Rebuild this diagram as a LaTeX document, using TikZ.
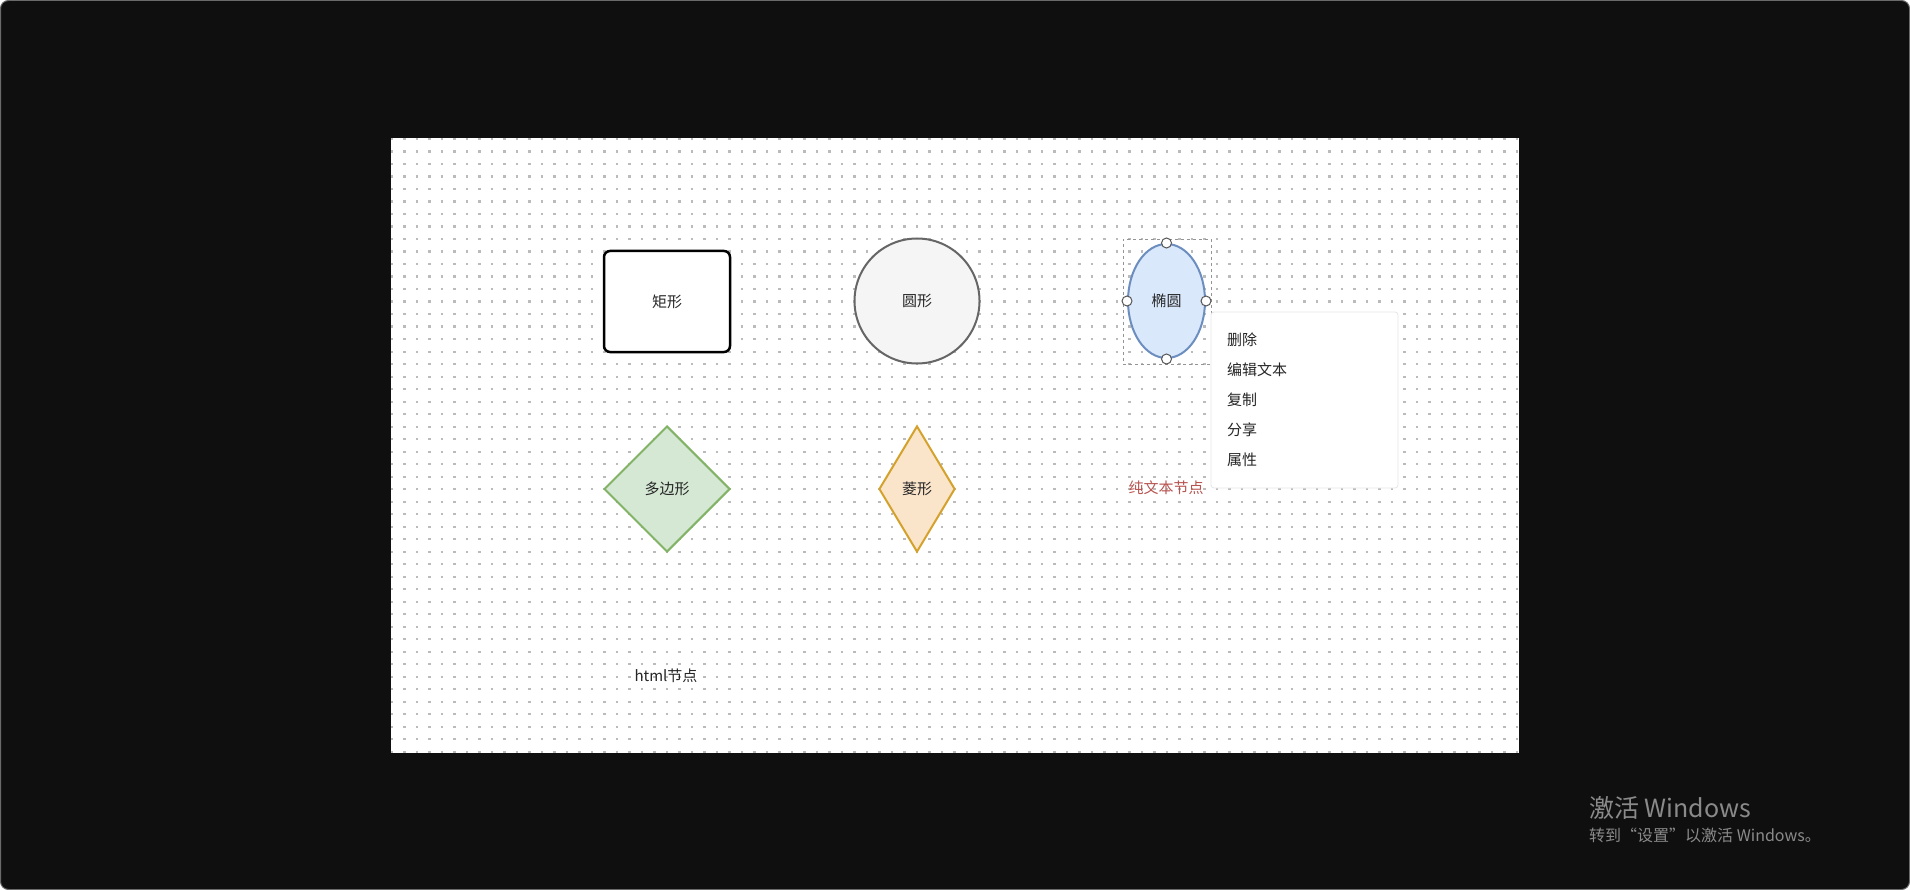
\documentclass[tikz,border=0pt]{standalone}
\usepackage{fontspec}
\setmainfont{Noto Sans CJK SC}
\usetikzlibrary{shapes.geometric}
\newcommand{\fsz}[1]{\fontsize{#1}{#1}\selectfont}
\definecolor{framebg}{HTML}{0F0F0F}
\definecolor{frameline}{HTML}{6A6A6A}
\definecolor{dotgray}{HTML}{BBBBBB}
\definecolor{txt}{HTML}{262626}
\definecolor{redtxt}{HTML}{B85450}
\definecolor{circfill}{HTML}{F5F5F5}
\definecolor{circline}{HTML}{666666}
\definecolor{ellfill}{HTML}{DAE8FC}
\definecolor{ellline}{HTML}{6C8EBF}
\definecolor{polyfill}{HTML}{D5E8D4}
\definecolor{polyline}{HTML}{82B366}
\definecolor{rhombfill}{HTML}{FAE5CB}
\definecolor{rhombline}{HTML}{D4A22C}
\definecolor{menuline}{HTML}{E6E6E6}
\definecolor{handleline}{HTML}{555555}
\definecolor{wmgray}{HTML}{8A8A8A}

\begin{document}
\begin{tikzpicture}[x=1pt,y=-1pt,
    lbl/.style={font=\fsz{15},text=txt,inner sep=0pt},
    shp/.style={lbl,line width=2pt},
    handle/.style={circle,draw=handleline,fill=white,line width=1pt,minimum size=10pt,inner sep=0pt},
    item/.style={lbl,anchor=west},
    griddot/.style={draw=dotgray,line width=2.4pt,dash pattern=on 2.4pt off 10.1pt},
    wmark/.style={anchor=west,text=wmgray,inner sep=0pt}]
     \useasboundingbox (0,0) rectangle (1910,890);
     \fill[white] (0,0) rectangle (1910,890);
     \draw[frameline,fill=framebg,rounded corners=8pt,line width=1pt] (0.5,0.5) rectangle (1909.5,889.5);
     \fill[white] (391,138) rectangle (1519,753);
     \foreach \j in {0,...,49} {
      \draw[griddot] (390.8,{139.2+12.5*\j}) -- (1519,{139.2+12.5*\j});
     }
     \node[shp,rectangle,rounded corners=6pt,draw=black,line width=2.5pt,fill=white,
        minimum width=126pt,minimum height=101pt] (rect) at (667,301.5) {矩形};
     \node[shp,circle,draw=circline,fill=circfill,minimum size=125pt] (circ) at (917,301) {圆形};
     \node[shp,ellipse,draw=ellline,fill=ellfill,minimum width=77pt,minimum height=114pt] (ell) at (1166.5,301) {椭圆};
     \node[draw=circline!70,dashed,line width=0.8pt,minimum width=88pt,minimum height=125pt] (sel) at (1167,301.5) {};
     \foreach \a in {north,south,east,west} {
      \node[handle] (h-\a) at (ell.\a) {};
     }
     \node[shp,diamond,draw=polyline,fill=polyfill,minimum width=126pt,minimum height=126pt] (poly) at (667,489) {多边形};
     \node[shp,diamond,draw=rhombline,fill=rhombfill,minimum width=76pt,minimum height=126pt] (rhomb) at (917,489) {菱形};
     \node[lbl,text=redtxt] (plain) at (1166,488) {纯文本节点};
     \node[lbl] (html) at (666,676) {html节点};
     \node[draw=menuline,fill=white,rounded corners=3pt,line width=0.8pt,inner sep=0pt,
        minimum width=187pt,minimum height=176pt] (menu) at (1304.5,400) {};
     \foreach \t/\y in {删除/340,编辑文本/370,复制/400,分享/430,属性/460} {
      \node[item] (item\y) at (1227,\y) {\t};
     }
     \node[wmark,font=\fsz{25}] (wm1) at (1589,808) {激活 Windows};
     \node[wmark,font=\fsz{16}] (wm2) at (1589,835) {转到“设置”以激活 Windows。};
    \end{tikzpicture}
\end{document}
